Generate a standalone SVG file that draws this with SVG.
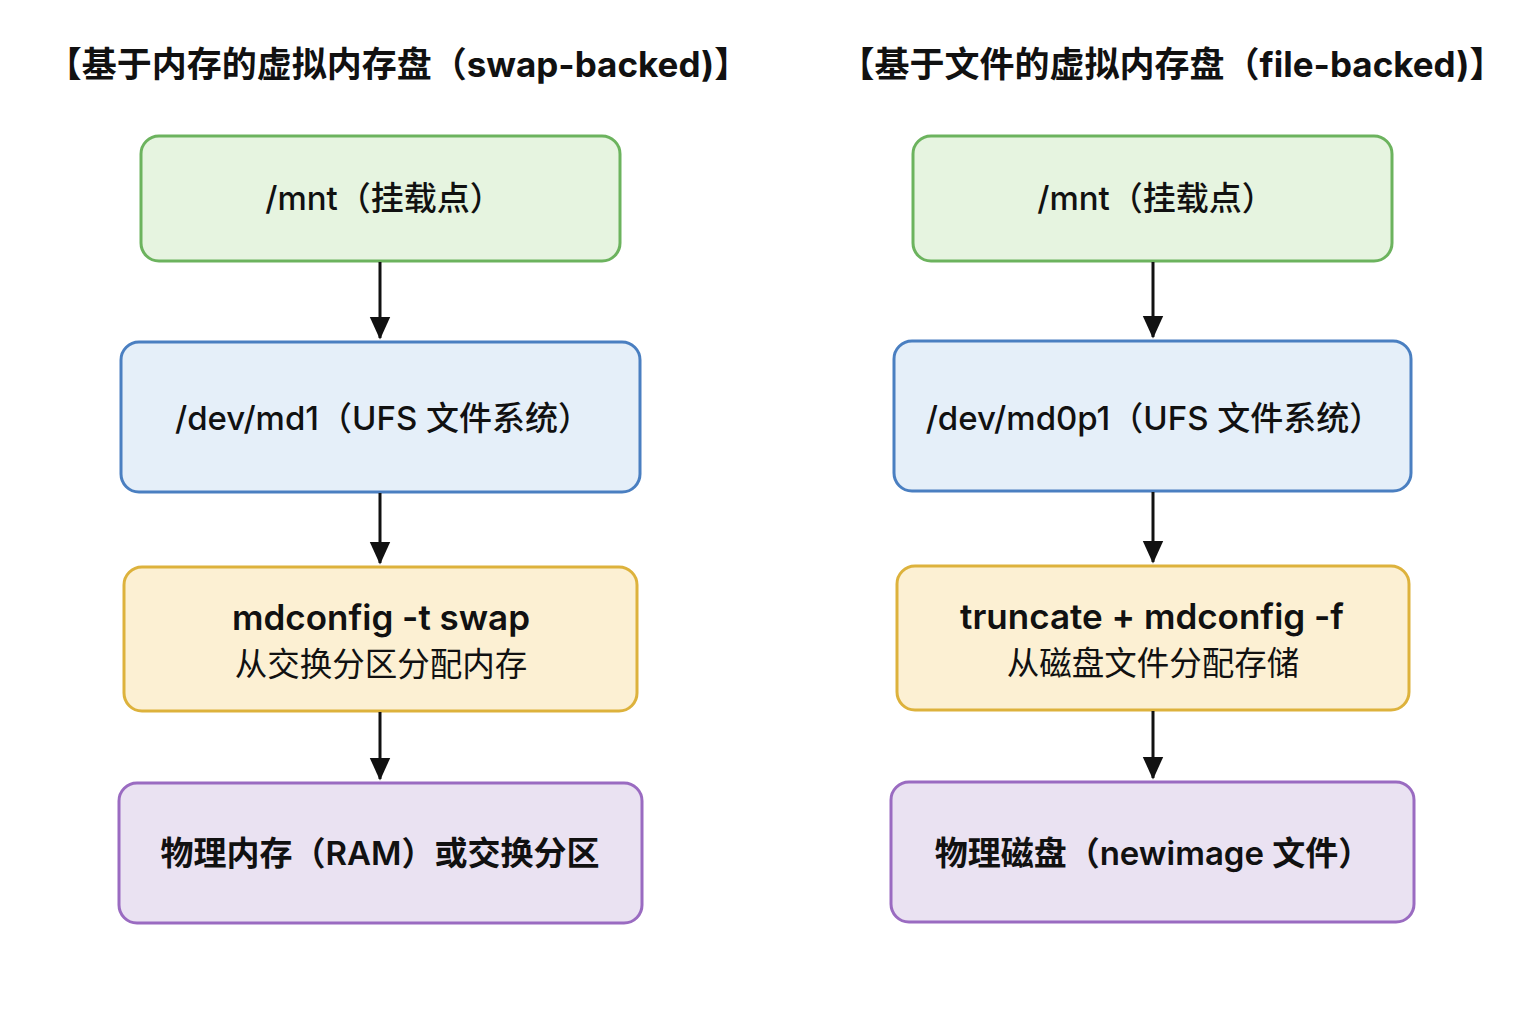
<svg xmlns="http://www.w3.org/2000/svg" width="1536" height="1024" viewBox="0 0 1536 1024">
<defs>
<style>
text{font-family:Inter,"Noto Sans CJK SC",sans-serif;fill:#111;text-anchor:middle}
.title{font-size:35px;font-weight:700}
.lbl{font-size:33px;font-weight:500}
.bold{font-weight:600}
.cmd{font-size:35px;font-weight:600}
.sub{font-size:32.5px;font-weight:400}
.g{fill:#e6f4e0;stroke:#6cb35e;stroke-width:3}
.b{fill:#e5eff9;stroke:#4a7fc1;stroke-width:3}
.y{fill:#fcf0d3;stroke:#ddb23c;stroke-width:3}
.p{fill:#eae2f2;stroke:#9a6bc1;stroke-width:3}
.edge{stroke:#111;stroke-width:3;fill:none;marker-end:url(#ah)}
</style>
<marker id="ah" markerWidth="8" markerHeight="8" refX="7" refY="4" orient="auto" markerUnits="strokeWidth">
<path d="M0,0.6 L7.5,4 L0,7.4 Z" fill="#111"/>
</marker>
</defs>
<rect width="1536" height="1024" fill="#ffffff"/>
<text class="title" x="398" y="77">【基于内存的虚拟内存盘（swap-backed)】</text>
<text class="title" x="1172" y="77">【基于文件的虚拟内存盘（file-backed)】</text>

<g id="L1"><rect class="g" x="141" y="136" width="479" height="125" rx="18"/><text class="lbl" x="384" y="210">/mnt（挂载点）</text></g>
<g id="L2"><rect class="b" x="121" y="342" width="519" height="150" rx="18"/><text class="lbl" x="383" y="430">/dev/md1（UFS 文件系统）</text></g>
<g id="L3"><rect class="y" x="124" y="567" width="513" height="144" rx="18"/><text class="cmd" x="381" y="630">mdconfig -t swap</text><text class="sub" x="381" y="676">从交换分区分配内存</text></g>
<g id="L4"><rect class="p" x="119" y="783" width="523" height="140" rx="18"/><text class="lbl bold" x="380" y="865">物理内存（RAM）或交换分区</text></g>

<g id="R1"><rect class="g" x="913" y="136" width="479" height="125" rx="18"/><text class="lbl" x="1156" y="210">/mnt（挂载点）</text></g>
<g id="R2"><rect class="b" x="894" y="341" width="517" height="150" rx="18"/><text class="lbl" x="1154" y="430">/dev/md0p1（UFS 文件系统）</text></g>
<g id="R3"><rect class="y" x="897" y="566" width="512" height="144" rx="18"/><text class="cmd" x="1152" y="629">truncate + mdconfig -f</text><text class="sub" x="1153" y="675">从磁盘文件分配存储</text></g>
<g id="R4"><rect class="p" x="891" y="782" width="523" height="140" rx="18"/><text class="lbl bold" x="1153" y="865">物理磁盘（newimage 文件）</text></g>

<g id="connectors">
<line class="edge" x1="380" y1="262" x2="380" y2="338"/>
<line class="edge" x1="380" y1="493" x2="380" y2="563"/>
<line class="edge" x1="380" y1="712" x2="380" y2="779"/>
<line class="edge" x1="1153" y1="262" x2="1153" y2="337"/>
<line class="edge" x1="1153" y1="492" x2="1153" y2="562"/>
<line class="edge" x1="1153" y1="711" x2="1153" y2="778"/>
</g>
</svg>
